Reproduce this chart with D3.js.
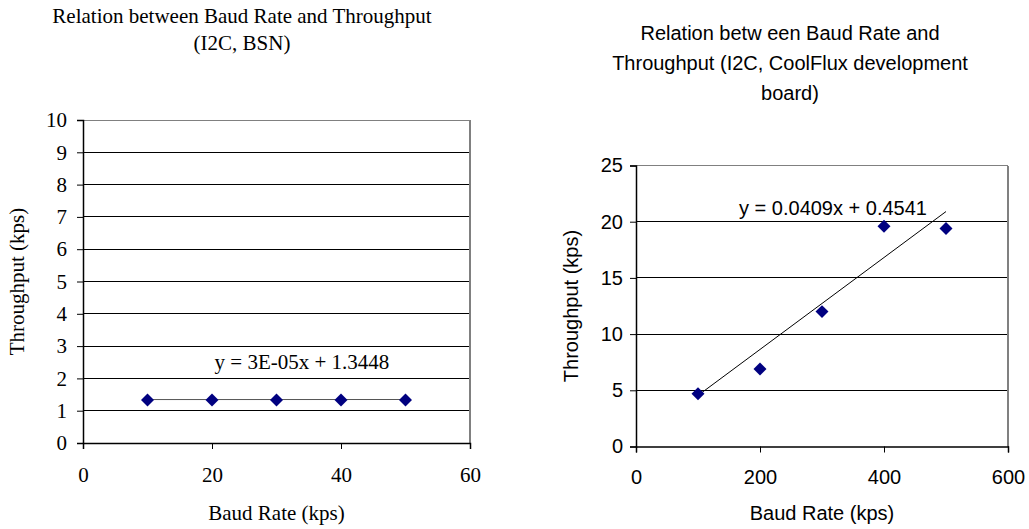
<!DOCTYPE html>
<html><head><meta charset="utf-8">
<script src="https://cdn.jsdelivr.net/npm/d3@7"></script>
<style>body{margin:0;background:#fff}</style>
</head><body>
<svg id="c" width="1029" height="529"></svg>
<script>
// Left chart (I2C, BSN)
const bsnBaud = [10, 20, 30, 40, 50];
const bsnThroughput = [1.33, 1.33, 1.33, 1.33, 1.33];
const bsnTrend = [0.00003, 1.3448]; // slope, intercept
const bsnXTicks = [0, 20, 40, 60];
const bsnYTicks = [0,1,2,3,4,5,6,7,8,9,10];
const bsnTitle = ["Relation between Baud Rate and Throughput", "(I2C, BSN)"];
const bsnEq = "y = 3E-05x + 1.3448";

// Right chart (I2C, CoolFlux)
const cfBaud = [100, 200, 300, 400, 500];
const cfThroughput = [4.7, 6.9, 12.0, 19.6, 19.4];
const cfTrend = [0.0409, 0.4541];
const cfXTicks = [0, 200, 400, 600];
const cfYTicks = [0, 5, 10, 15, 20, 25];
const cfTitle = ["Relation betw een Baud Rate and", "Throughput (I2C, CoolFlux development", "board)"];
const cfEq = "y = 0.0409x + 0.4541";

const svg = d3.select("#c");

function chart(o) {
  const g = svg.append("g").attr("font-family", o.font).attr("fill", "#000");
  const x = d3.scaleLinear().domain(o.xd).range([o.l, o.r]);
  const y = d3.scaleLinear().domain(o.yd).range([o.b, o.t]);
  // gridlines
  g.selectAll(".grid").data(o.yt.filter(v => v > o.yd[0])).enter().append("line")
    .attr("x1", o.l).attr("x2", o.r).attr("y1", d => y(d)).attr("y2", d => y(d))
    .attr("stroke", d => d === o.yd[1] ? "#808080" : "#000").attr("stroke-width", 1).attr("shape-rendering","crispEdges");
  // right border
  g.append("line").attr("x1", o.r).attr("x2", o.r).attr("y1", o.t).attr("y2", o.b)
    .attr("stroke", "#808080").attr("stroke-width", 1.5).attr("shape-rendering","crispEdges");
  // axes
  const ya = g.append("g").attr("transform", `translate(${o.l},0)`)
    .call(d3.axisLeft(y).tickValues(o.yt).tickSize(6).tickPadding(o.ypad).tickFormat(d3.format("d")));
  const xa = g.append("g").attr("transform", `translate(0,${o.b})`)
    .call(d3.axisBottom(x).tickValues(o.xt).tickSize(6).tickPadding(o.xpad).tickFormat(d3.format("d")));
  [ya, xa].forEach(a => {
    a.attr("font-size", o.fs).attr("font-family", o.font);
    a.select(".domain").attr("stroke", "#000").attr("stroke-width", 1.5);
    a.selectAll(".tick line").attr("stroke", "#000");
    a.selectAll("text").attr("font-family", o.font).attr("font-size", o.fs).attr("fill", "#000");
  });
  // trendline
  const xs = [o.data[0][0], o.data[o.data.length - 1][0]];
  g.append("line").attr("x1", x(xs[0])).attr("x2", x(xs[1]))
    .attr("y1", y(o.trend[0] * xs[0] + o.trend[1])).attr("y2", y(o.trend[0] * xs[1] + o.trend[1]))
    .attr("stroke", o.trendColor).attr("stroke-width", 1);
  // markers
  g.selectAll(".pt").data(o.data).enter().append("path")
    .attr("d", d3.symbol().type(d3.symbolSquare).size(84))
    .attr("transform", d => `translate(${x(d[0])},${y(d[1])}) rotate(45)`)
    .attr("fill", "#000080");
  // equation
  g.append("text").attr("x", o.eqx).attr("y", o.eqy).attr("text-anchor", "middle")
    .attr("dominant-baseline", "middle").attr("font-size", o.fs).text(o.eq);
  // titles
  o.title.forEach((t, i) => g.append("text").attr("x", o.tx).attr("y", o.ty + i * o.tlh)
    .attr("text-anchor", "middle").attr("dominant-baseline", "middle").attr("font-size", o.tfs).text(t));
  g.append("text").attr("x", (o.l + o.r) / 2).attr("y", o.xty).attr("text-anchor", "middle")
    .attr("dominant-baseline", "middle").attr("font-size", o.afs).text("Baud Rate (kps)");
  g.append("text").attr("transform", `translate(${o.ytx},${(o.t + o.b) / 2}) rotate(-90)`)
    .attr("text-anchor", "middle").attr("dominant-baseline", "middle").attr("font-size", o.afs).text("Throughput (kps)");
}

chart({
  font: "'Liberation Serif','Times New Roman',serif", fs: 21, tfs: 21, afs: 21,
  l: 83, r: 470, t: 120, b: 443, xd: [0, 60], yd: [0, 10], xt: bsnXTicks, yt: bsnYTicks, xpad: 18, ypad: 10,
  data: bsnBaud.map((v, i) => [v, bsnThroughput[i]]), trend: bsnTrend, trendColor: "#555",
  eq: bsnEq, eqx: 302, eqy: 364, title: bsnTitle, tx: 242, ty: 18, tlh: 27,
  xty: 515, ytx: 19
});
chart({
  font: "'Liberation Sans',Arial,sans-serif", fs: 20, tfs: 20, afs: 20,
  l: 636, r: 1008, t: 165.5, b: 446.5, xd: [0, 600], yd: [0, 25], xt: cfXTicks, yt: cfYTicks, xpad: 17, ypad: 7,
  data: cfBaud.map((v, i) => [v, cfThroughput[i]]), trend: cfTrend, trendColor: "#000",
  eq: cfEq, eqx: 833, eqy: 210, title: cfTitle, tx: 790, ty: 35, tlh: 30,
  xty: 515, ytx: 573
});
</script>
</body></html>
